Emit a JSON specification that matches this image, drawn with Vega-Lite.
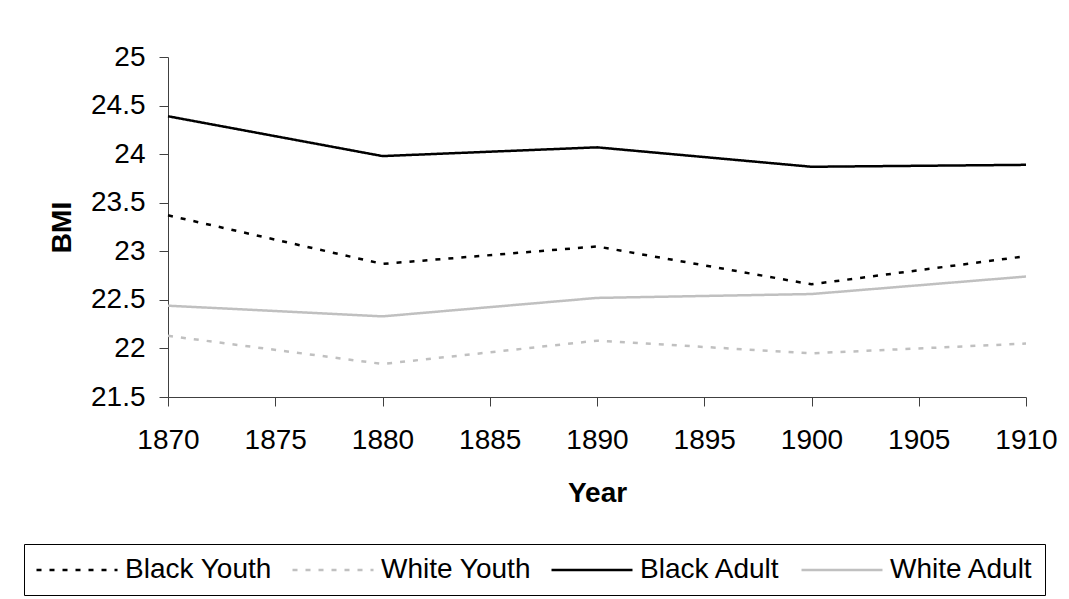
{
  "$schema": "https://vega.github.io/schema/vega-lite/v6.json",
  "width": 858,
  "height": 340,
  "autosize": {"type": "none"},
  "padding": {"left": 168, "top": 57, "right": 43, "bottom": 202},
  "background": "white",
  "config": {
    "view": {"stroke": null},
    "font": "Liberation Sans",
    "axis": {
      "grid": false,
      "domainColor": "#404040",
      "tickColor": "#404040",
      "tickSize": 9,
      "labelFont": "Liberation Sans",
      "labelFontSize": 28,
      "labelColor": "#000000",
      "titleFont": "Liberation Sans",
      "titleFontSize": 28,
      "titleFontWeight": "bold",
      "titleColor": "#000000"
    },
    "legend": {
      "labelFont": "Liberation Sans",
      "labelFontSize": 28,
      "labelColor": "#000000",
      "strokeColor": "#000000",
      "padding": 11,
      "symbolType": "M-3,0H3",
      "symbolSize": 729,
      "symbolOffset": 27,
      "symbolStrokeWidth": 2.5,
      "labelOffset": 33,
      "columnPadding": 15
    }
  },
  "data": {
    "values": [
      {"year": 1870, "bmi": 23.37, "series": "Black Youth"},
      {"year": 1880, "bmi": 22.87, "series": "Black Youth"},
      {"year": 1890, "bmi": 23.05, "series": "Black Youth"},
      {"year": 1900, "bmi": 22.66, "series": "Black Youth"},
      {"year": 1910, "bmi": 22.95, "series": "Black Youth"},
      {"year": 1870, "bmi": 22.13, "series": "White Youth"},
      {"year": 1880, "bmi": 21.84, "series": "White Youth"},
      {"year": 1890, "bmi": 22.08, "series": "White Youth"},
      {"year": 1900, "bmi": 21.95, "series": "White Youth"},
      {"year": 1910, "bmi": 22.05, "series": "White Youth"},
      {"year": 1870, "bmi": 24.39, "series": "Black Adult"},
      {"year": 1880, "bmi": 23.98, "series": "Black Adult"},
      {"year": 1890, "bmi": 24.07, "series": "Black Adult"},
      {"year": 1900, "bmi": 23.87, "series": "Black Adult"},
      {"year": 1910, "bmi": 23.89, "series": "Black Adult"},
      {"year": 1870, "bmi": 22.44, "series": "White Adult"},
      {"year": 1880, "bmi": 22.33, "series": "White Adult"},
      {"year": 1890, "bmi": 22.52, "series": "White Adult"},
      {"year": 1900, "bmi": 22.56, "series": "White Adult"},
      {"year": 1910, "bmi": 22.74, "series": "White Adult"}
    ]
  },
  "mark": {"type": "line", "strokeWidth": 2.5},
  "encoding": {
    "x": {
      "field": "year",
      "type": "quantitative",
      "title": "Year",
      "scale": {"domain": [1870, 1910], "nice": false, "zero": false},
      "axis": {
        "values": [1870, 1875, 1880, 1885, 1890, 1895, 1900, 1905, 1910],
        "format": "d",
        "labelPadding": 20,
        "titlePadding": 25,
        "labelFlush": false
      }
    },
    "y": {
      "field": "bmi",
      "type": "quantitative",
      "title": "BMI",
      "scale": {"domain": [21.5, 25], "nice": false, "zero": false},
      "axis": {
        "values": [21.5, 22, 22.5, 23, 23.5, 24, 24.5, 25],
        "format": "~g",
        "labelPadding": 14,
        "titlePadding": 14
      }
    },
    "color": {
      "field": "series",
      "type": "nominal",
      "scale": {
        "domain": ["Black Youth", "White Youth", "Black Adult", "White Adult"],
        "range": ["#000000", "#c0c0c0", "#000000", "#c0c0c0"]
      },
      "legend": {
        "title": null,
        "orient": "none",
        "direction": "horizontal",
        "columns": 4,
        "legendX": -144,
        "legendY": 487
      }
    },
    "strokeDash": {
      "field": "series",
      "type": "nominal",
      "scale": {
        "domain": ["Black Youth", "White Youth", "Black Adult", "White Adult"],
        "range": [[5, 8], [5, 8], [1, 0], [1, 0]]
      },
      "legend": {
        "title": null,
        "orient": "none",
        "direction": "horizontal",
        "columns": 4,
        "legendX": -144,
        "legendY": 487
      }
    }
  }
}
